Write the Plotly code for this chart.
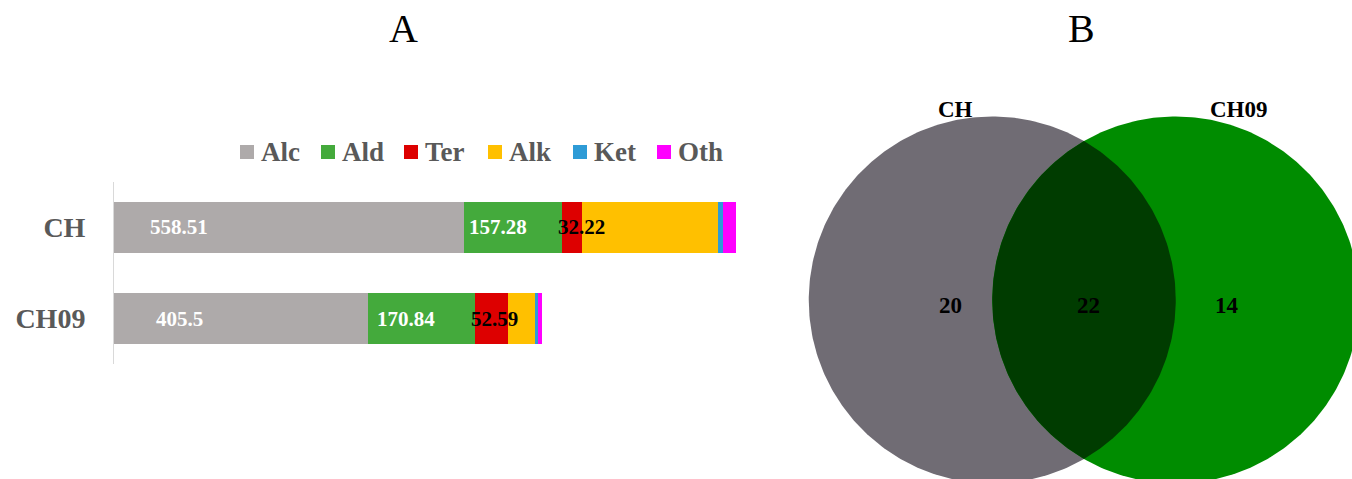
import numpy as np
import plotly.graph_objects as go

# ---- Panel A: volatile compound classes per sample ----
samples = ["CH", "CH09"]
classes = ["Alc", "Ald", "Ter", "Alk", "Ket", "Oth"]
colors = ["#aeaaaa", "#44aa3c", "#dd0000", "#ffc000", "#2e9bd6", "#ff00ff"]
alc = [558.51, 405.5]
ald = [157.28, 170.84]
ter = [32.22, 52.59]
alk = [217.0, 44.0]
ket = [8.0, 4.5]
oth = [21.0, 6.5]
series = [alc, ald, ter, alk, ket, oth]

# ---- Panel B: shared / unique compounds ----
venn_sets = ["CH", "CH09"]
only_ch = 20
shared = 22
only_ch09 = 14

SERIF = "Liberation Serif"
W, H = 1352, 479

fig = go.Figure()

for name, vals, col in zip(classes, series, colors):
    fig.add_trace(go.Bar(
        y=samples, x=vals, name=name, orientation="h",
        marker=dict(color=col, line=dict(width=0)),
        showlegend=False, hoverinfo="x+name",
        xaxis="x", yaxis="y",
    ))

annotations = []
shapes = []

# value labels on the first three segments
starts_alc = [0.0, 0.0]
starts_ald = [a for a in alc]
starts_ter = [a + b for a, b in zip(alc, ald)]
lab_font = dict(family=SERIF, size=21, weight="bold")
for i, s in enumerate(samples):
    annotations.append(dict(
        x=starts_alc[i], y=s, xref="x", yref="y", text=f"{alc[i]:g}",
        showarrow=False, xanchor="center", xshift=65,
        font=dict(color="white", **lab_font)))
    annotations.append(dict(
        x=starts_ald[i] + ald[i] / 2, y=s, xref="x", yref="y", text=f"{ald[i]:g}",
        showarrow=False, xanchor="center", xshift=-15,
        font=dict(color="white", **lab_font)))
    annotations.append(dict(
        x=starts_ter[i], y=s, xref="x", yref="y", text=f"{ter[i]:g}",
        showarrow=False, xanchor="left", xshift=-6,
        font=dict(color="black", **lab_font)))

# legend row above the bars
leg_left = [240, 321, 404, 488, 573, 657]
leg_y = H - 152
sq = 14
for name, col, lx in zip(classes, colors, leg_left):
    shapes.append(dict(
        type="rect", xref="paper", yref="paper",
        x0=lx / W, x1=(lx + sq) / W,
        y0=(leg_y - sq / 2) / H, y1=(leg_y + sq / 2) / H,
        fillcolor=col, line=dict(width=0)))
    annotations.append(dict(
        x=(lx + sq + 5) / W, y=leg_y / H, xref="paper", yref="paper",
        text=name, showarrow=False, xanchor="left", yanchor="middle",
        font=dict(family=SERIF, size=27, color="#595959", weight="bold")))

# ---- Venn circles (unit radius) ----
d = 1.0
r = 1.0
t = np.linspace(0, 2 * np.pi, 361)
cxA, cxB = -d / 2, d / 2
fig.add_trace(go.Scatter(
    x=cxA + r * np.cos(t), y=r * np.sin(t), mode="lines", fill="toself",
    fillcolor="#706c74", line=dict(width=0), hoverinfo="skip",
    showlegend=False, xaxis="x2", yaxis="y2"))
fig.add_trace(go.Scatter(
    x=cxB + r * np.cos(t), y=r * np.sin(t), mode="lines", fill="toself",
    fillcolor="#008c00", line=dict(width=0), hoverinfo="skip",
    showlegend=False, xaxis="x2", yaxis="y2"))
beta = np.arccos(d / (2 * r))
ta = np.linspace(-beta, beta, 121)
tb = np.linspace(np.pi - beta, np.pi + beta, 121)
lens_x = np.concatenate([cxA + r * np.cos(ta), cxB + r * np.cos(tb)])
lens_y = np.concatenate([r * np.sin(ta), r * np.sin(tb)])
fig.add_trace(go.Scatter(
    x=lens_x, y=lens_y, mode="lines", fill="toself",
    fillcolor="#003c00", line=dict(width=0), hoverinfo="skip",
    showlegend=False, xaxis="x2", yaxis="y2"))

cnt_font = dict(family=SERIF, size=23, color="black", weight="bold")
for xv, val in [(-0.725, only_ch), (0.027, shared), (0.78, only_ch09)]:
    annotations.append(dict(x=xv, y=-0.03, xref="x2", yref="y2", text=str(val),
                            showarrow=False, font=cnt_font))
for xv, name in [(-0.70, venn_sets[0]), (0.845, venn_sets[1])]:
    annotations.append(dict(x=xv, y=1.04, xref="x2", yref="y2", text=name,
                            showarrow=False, font=cnt_font))

# panel letters
for px, letter in [(403, "A"), (1081, "B")]:
    annotations.append(dict(x=px / W, y=1 - 29 / H, xref="paper", yref="paper",
                            text=letter, showarrow=False,
                            xanchor="center", yanchor="middle",
                            font=dict(family=SERIF, size=40, color="black")))

# venn axes: 1 unit = 183.5 px, centre of the pair at (1084, 300)
u = 183.5
vx0, vcx, vcy = 800, 1084, 300
fig.update_layout(
    width=W, height=H,
    margin=dict(l=0, r=0, t=0, b=0),
    paper_bgcolor="white", plot_bgcolor="rgba(0,0,0,0)",
    barmode="stack", bargap=0.45,
    xaxis=dict(domain=[114 / W, 740 / W], range=[0, 1000], visible=False,
               fixedrange=True),
    yaxis=dict(domain=[(H - 364) / H, (H - 182) / H], autorange="reversed",
               showline=True, linecolor="#d9d9d9", linewidth=1,
               showgrid=False, zeroline=False, ticks="",
               ticklabelstandoff=22,
               tickfont=dict(family=SERIF, size=28, color="#595959",
                             weight="bold")),
    xaxis2=dict(domain=[vx0 / W, 1], range=[(vx0 - vcx) / u, (W - vcx) / u],
                visible=False, fixedrange=True),
    yaxis2=dict(domain=[0, 1], range=[(vcy - H) / u, vcy / u],
                visible=False, fixedrange=True),
    annotations=annotations,
    shapes=shapes,
)

fig.write_html("out.html")
